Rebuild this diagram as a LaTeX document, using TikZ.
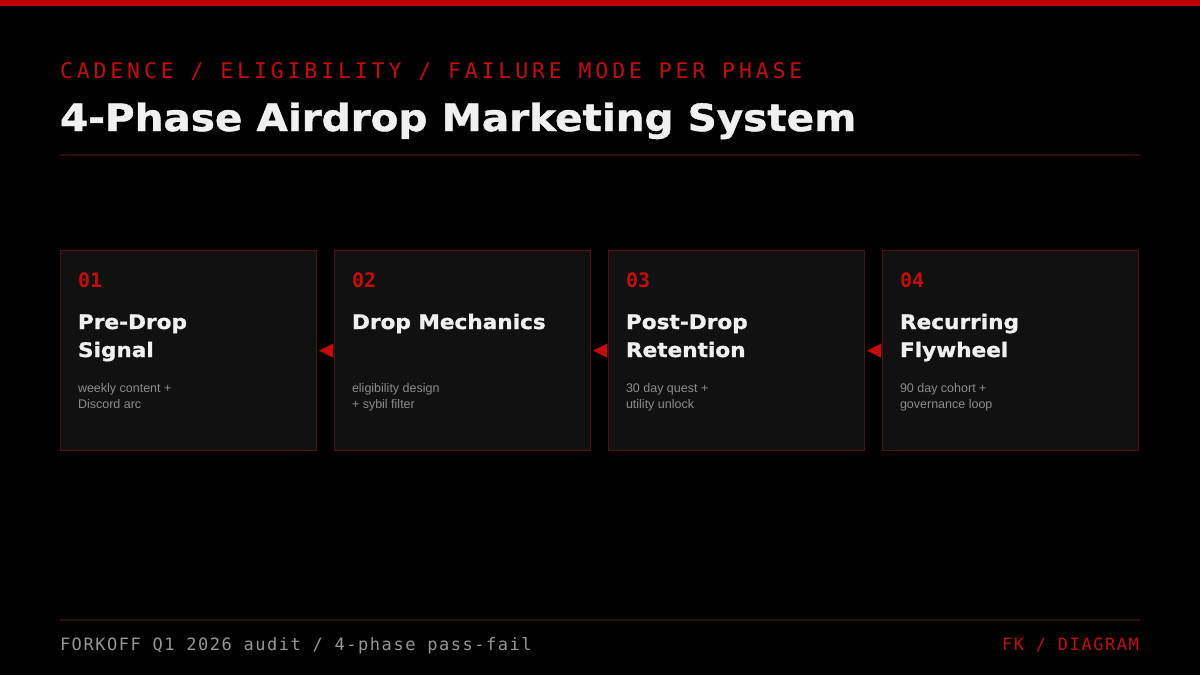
\documentclass[tikz,border=0pt]{standalone}
\usepackage{fontspec}
\setmainfont{Liberation Sans}
\newfontfamily\monof[LetterSpace=18]{DejaVu Sans Mono}
\newfontfamily\monofoot[LetterSpace=9]{DejaVu Sans Mono}
\newfontfamily\numf{DejaVu Sans Mono}
\newfontfamily\dispf[FakeStretch=1.08,FakeBold=1.2]{DejaVu Sans}
\usetikzlibrary{arrows.meta}
\definecolor{fkred}{RGB}{196,12,12}
\definecolor{barred}{RGB}{192,0,0}
\definecolor{rulec}{RGB}{40,12,14}
\definecolor{boxfill}{RGB}{17,17,17}
\definecolor{boxline}{RGB}{80,18,18}
\definecolor{descg}{RGB}{140,140,140}
\definecolor{footg}{RGB}{150,150,150}
\definecolor{titw}{RGB}{240,240,240}
\tikzset{
  txt/.style={anchor=base west, inner sep=0pt, outer sep=0pt},
  phase/.style={draw=boxline, line width=1.2pt, fill=boxfill, minimum width=256pt, minimum height=200pt, inner sep=0pt, anchor=north west},
  num/.style={txt, text=fkred, font=\numf\bfseries\fontsize{20}{20}\selectfont},
  ptitle/.style={txt, text=titw, align=left, font=\dispf\bfseries\fontsize{20}{28}\selectfont},
  pdesc/.style={txt, text=descg, align=left, font=\fontsize{12.5}{16}\selectfont},
  flow/.style={fkred, -{Triangle[length=14pt,width=14pt]}, shorten <=2pt, shorten >=2pt}
}
\begin{document}
\begin{tikzpicture}[x=1pt,y=-1pt]
\useasboundingbox (0,0) rectangle (1200,675);
\fill[black] (0,0) rectangle (1200,675);
\fill[barred] (0,0) rectangle (1200,6);
\node[txt, text=fkred, font=\monof\fontsize{21.5}{22}\selectfont] (sub) at (60,78) {CADENCE / ELIGIBILITY / FAILURE MODE PER PHASE};
\node[txt, text=titw, font=\dispf\bfseries\fontsize{37.5}{44}\selectfont] (title) at (60,131) {4-Phase Airdrop Marketing System};
\draw[rulec, line width=1.2pt] (60,155) -- (1140,155);
\foreach \i/\x/\n/\ta/\tb/\da/\db in {
  1/60/01/Pre-Drop/Signal/weekly content +/Discord arc,
  2/334/02/Drop Mechanics//eligibility design/+ sybil filter,
  3/608/03/Post-Drop/Retention/30 day quest +/utility unlock,
  4/882/04/Recurring/Flywheel/90 day cohort +/governance loop}{
  \node[phase] (b\i) at (\x,250) {};
  \node[num] (n\i) at (\x+18,287) {\n};
  \node[ptitle] (t\i) at (\x+18,357) {\ta\\\tb};
  \node[pdesc] (d\i) at (\x+18,408) {\da\\\db};
}
\draw[flow] (b2.west) -- (b1.east);
\draw[flow] (b3.west) -- (b2.east);
\draw[flow] (b4.west) -- (b3.east);
\draw[rulec, line width=1.2pt] (60,620) -- (1140,620);
\node[txt, text=footg, font=\monofoot\fontsize{17}{18}\selectfont] (foot) at (60,650) {FORKOFF Q1 2026 audit / 4-phase pass-fail};
\node[anchor=base east, inner sep=0pt, text=fkred, font=\monofoot\fontsize{17}{18}\selectfont] (fk) at (1139,650) {FK / DIAGRAM};
\end{tikzpicture}
\end{document}
